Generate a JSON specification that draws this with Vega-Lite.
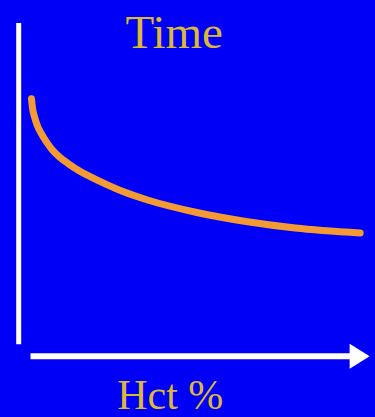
{
  "$schema": "https://vega.github.io/schema/vega-lite/v6.json",
  "autosize": {"type": "fit", "contains": "padding"},
  "width": 375,
  "height": 417,
  "padding": 0,
  "background": "#0000f6",
  "config": {"view": {"stroke": null}},
  "datasets": {
    "curve": [
      {"hct": 6.4, "time": 63.6},
      {"hct": 6.6, "time": 61.8},
      {"hct": 7.0, "time": 60},
      {"hct": 7.6, "time": 58.2},
      {"hct": 8.4, "time": 56.6},
      {"hct": 9.4, "time": 55},
      {"hct": 10.6, "time": 53.4},
      {"hct": 12, "time": 52},
      {"hct": 14, "time": 50.5},
      {"hct": 16, "time": 49.2},
      {"hct": 20, "time": 47.2},
      {"hct": 25, "time": 45},
      {"hct": 30, "time": 43.3},
      {"hct": 40, "time": 40.8},
      {"hct": 50, "time": 39},
      {"hct": 60, "time": 37.7},
      {"hct": 73.2, "time": 36.7}
    ],
    "yaxis": [{"x": 3.8, "y1": 14.4, "y2": 78.8}],
    "xaxis": [{"x1": 6.2, "x2": 72, "y": 12}],
    "arrow": [{"x": 73.1, "y": 12}],
    "title": [{"x": 35.4, "y": 73.8, "text": "Time"}],
    "xlabel": [{"x": 34.6, "y": 1.4, "text": "Hct %"}]
  },
  "layer": [
    {
      "data": {"name": "yaxis"},
      "mark": {"type": "rule", "color": "white", "strokeWidth": 5},
      "encoding": {
        "x": {"field": "x", "type": "quantitative", "scale": {"domain": [0, 75]}, "axis": null},
        "y": {"field": "y1", "type": "quantitative", "scale": {"domain": [0, 83.4]}, "axis": null},
        "y2": {"field": "y2"}
      }
    },
    {
      "data": {"name": "xaxis"},
      "mark": {"type": "rule", "color": "white", "strokeWidth": 6},
      "encoding": {
        "x": {"field": "x1", "type": "quantitative", "scale": {"domain": [0, 75]}, "axis": null},
        "x2": {"field": "x2"},
        "y": {"field": "y", "type": "quantitative", "scale": {"domain": [0, 83.4]}, "axis": null}
      }
    },
    {
      "data": {"name": "arrow"},
      "mark": {"type": "point", "filled": true, "color": "white", "opacity": 1, "shape": "M-0.8,-1L0.8,0L-0.8,1Z", "size": 625},
      "encoding": {
        "x": {"field": "x", "type": "quantitative", "scale": {"domain": [0, 75]}, "axis": null},
        "y": {"field": "y", "type": "quantitative", "scale": {"domain": [0, 83.4]}, "axis": null}
      }
    },
    {
      "data": {"name": "curve"},
      "mark": {"type": "line", "color": "#f39a32", "strokeWidth": 7, "strokeCap": "round", "interpolate": "monotone"},
      "encoding": {
        "x": {"field": "hct", "type": "quantitative", "scale": {"domain": [0, 75]}, "axis": null},
        "y": {"field": "time", "type": "quantitative", "scale": {"domain": [0, 83.4]}, "axis": null}
      }
    },
    {
      "data": {"name": "title"},
      "mark": {"type": "text", "font": "Liberation Serif", "fontSize": 47, "color": "#dcb834", "align": "center", "baseline": "alphabetic"},
      "encoding": {
        "x": {"field": "x", "type": "quantitative", "scale": {"domain": [0, 75]}, "axis": null},
        "y": {"field": "y", "type": "quantitative", "scale": {"domain": [0, 83.4]}, "axis": null},
        "text": {"field": "text"}
      }
    },
    {
      "data": {"name": "xlabel"},
      "mark": {"type": "text", "font": "Liberation Serif", "fontSize": 42, "color": "#dcb834", "align": "center", "baseline": "alphabetic"},
      "encoding": {
        "x": {"field": "x", "type": "quantitative", "scale": {"domain": [0, 75]}, "axis": null},
        "y": {"field": "y", "type": "quantitative", "scale": {"domain": [0, 83.4]}, "axis": null},
        "text": {"field": "text"}
      }
    }
  ]
}
